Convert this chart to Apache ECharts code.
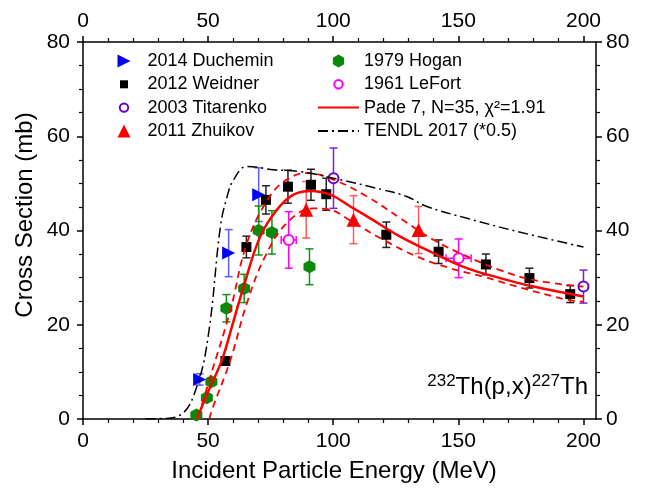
<!DOCTYPE html>
<html>
<head>
<meta charset="utf-8">
<script src="https://cdn.jsdelivr.net/npm/echarts@6/dist/echarts.min.js"></script>
<style>
html,body{margin:0;padding:0;background:#fff;}
#chart{width:655px;height:494px;}
</style>
</head>
<body>
<div id="chart"></div>
<script>
// ---- data ----
const xTickValues = [0, 50, 100, 150, 200];
const yTickValues = [0, 20, 40, 60, 80];

const duchE = [46.6, 58.2, 70.2];
const duchS = [8.4, 35.2, 47.6];
const duchErr = [1.2, 5.0, 5.7];

const weidE = [56.9, 65.3, 73.1, 81.9, 91.1, 97.2, 121.2, 142.1, 161.0, 178.4, 194.7];
const weidS = [12.3, 36.5, 46.5, 49.3, 49.7, 47.7, 39.1, 35.5, 32.8, 29.9, 26.5];
const weidErr = [0.8, 2.3, 3.0, 3.5, 3.3, 3.4, 2.7, 2.5, 2.2, 2.1, 1.8];

const titE = [100.1, 200.0];
const titS = [51.1, 28.1];
const titErr = [6.4, 3.5];

const zhuE = [89.2, 108.1, 134.1];
const zhuS = [44.4, 42.3, 40.1];
const zhuErr = [6.0, 5.1, 5.0];

const hogE = [45.3, 49.5, 51.3, 57.3, 64.4, 70.2, 75.5, 90.5];
const hogS = [0.85, 4.5, 7.9, 23.5, 27.7, 40.0, 39.6, 32.3];
const hogErr = [0.3, 0.6, 0.8, 2.9, 3.0, 5.2, 4.6, 3.8];

const lefE = [82.2, 150.1];
const lefS = [38.0, 34.1];
const lefErr = [6.0, 4.1];
const lefXErr = [3.0, 5.0];

const padeE = [45.5, 50, 55.5, 60, 64.2, 70.8, 77.5, 84.1, 90.8, 98.8, 106.8, 113.5, 126.8, 140.1, 153.4, 166.7, 180, 200];
const padeS = [0, 5.8, 12.5, 20.5, 28.1, 38.7, 44.4, 47.6, 48.4, 47.6, 45.1, 43.0, 38.7, 35.2, 32.0, 29.9, 28.1, 26.0];

const upE = [47.5, 50.9, 58.9, 65.5, 74.2, 81.5, 89.5, 100.1, 113.5, 126.8, 140.1, 153.4, 166.7, 180, 200];
const upS = [3.0, 9.0, 23.1, 37.3, 46.9, 50.8, 52.2, 50.8, 47.2, 42.6, 38.0, 34.5, 31.6, 29.5, 28.1];

const loE = [50.5, 51.5, 58.9, 65.5, 72.8, 81.5, 92.1, 98.8, 106.8, 120.1, 133.4, 146.7, 160, 173.4, 193.4, 200];
const loS = [0, 1.9, 12.5, 24.6, 34.5, 41.6, 44.7, 44.4, 42.1, 38.0, 34.5, 32.0, 30.2, 28.1, 25.3, 24.9];

const tendE = [25, 30, 38.9, 45.5, 50.2, 54.9, 57.5, 60.2, 65.5, 76.1, 86.8, 100.1, 120.1, 129.4, 137.4, 153.4, 173.4, 200];
const tendS = [0, 0.05, 0.85, 6.9, 18.2, 40.8, 47.0, 50.8, 53.6, 52.9, 52.5, 51.1, 48.6, 47.2, 45.1, 42.6, 39.8, 36.5];

const names = {
  duch: '2014 Duchemin', weid: '2012 Weidner', tit: '2003 Titarenko', zhu: '2011 Zhuikov',
  hog: '1979 Hogan', lef: '1961 LeFort', pade: 'Pade 7, N=35, χ²=1.91', tend: 'TENDL 2017 (*0.5)'
};

// ---- helpers ----
const FONT = 'Liberation Sans, Arial, sans-serif';
const zip = (a, b) => a.map((v, i) => [v, b[i]]);
const zipErr = (a, b, e, xe) => a.map((v, i) => [v, b[i], e[i], xe ? xe[i] : 0]);
const hexPath = 'path://M0,-1L0.866,-0.5L0.866,0.5L0,1L-0.866,0.5L-0.866,-0.5Z';
const rightTri = 'path://M0,0L10,5L0,10Z';
const smallSquare = 'path://M-4,-4L4,-4L4,4L-4,4Z M-6.5,-6.5L-6.5,-6.5 M6.5,6.5L6.5,6.5';
const smallCircle = 'path://M-6.5,-6.5L-6.5,-6.5 M6.5,6.5L6.5,6.5 M-4.2,0A4.2,4.2 0 1,0 4.2,0A4.2,4.2 0 1,0 -4.2,0Z';

function errSeries(x, y, e, xe, color) {
  return {
    type: 'custom',
    xAxisIndex: 0, yAxisIndex: 0,
    z: 2,
    silent: true,
    data: zipErr(x, y, e, xe),
    encode: { x: 0, y: 1 },
    renderItem: function (params, api) {
      const vx = api.value(0), vy = api.value(1), ve = api.value(2), vxe = api.value(3);
      const cap = 4;
      const t = api.coord([vx, vy + ve]);
      const b = api.coord([vx, vy - ve]);
      const style = { stroke: color, lineWidth: 1.5 };
      const children = [
        { type: 'line', shape: { x1: t[0], y1: t[1], x2: b[0], y2: b[1] }, style: style },
        { type: 'line', shape: { x1: t[0] - cap, y1: t[1], x2: t[0] + cap, y2: t[1] }, style: style },
        { type: 'line', shape: { x1: b[0] - cap, y1: b[1], x2: b[0] + cap, y2: b[1] }, style: style }
      ];
      if (vxe && vxe > 0) {
        const l = api.coord([vx - vxe, vy]);
        const r = api.coord([vx + vxe, vy]);
        children.push({ type: 'line', shape: { x1: l[0], y1: l[1], x2: r[0], y2: r[1] }, style: style });
        children.push({ type: 'line', shape: { x1: l[0], y1: l[1] - cap, x2: l[0], y2: l[1] + cap }, style: style });
        children.push({ type: 'line', shape: { x1: r[0], y1: r[1] - cap, x2: r[0], y2: r[1] + cap }, style: style });
      }
      return { type: 'group', children: children };
    }
  };
}

function axisCommon() {
  return {
    type: 'value',
    axisLine: { show: true, onZero: false, lineStyle: { color: '#000', width: 1.5 } },
    axisTick: { show: true, inside: false, length: 6, lineStyle: { color: '#000', width: 1.5 } },
    minorTick: { show: true, length: 4, lineStyle: { color: '#000', width: 1.2 } },
    splitLine: { show: false },
    minorSplitLine: { show: false },
    axisLabel: { color: '#000', fontSize: 21, fontFamily: FONT }
  };
}

const xBottom = Object.assign(axisCommon(), { position: 'bottom', min: 0, max: 205, interval: 50 });
xBottom.axisTick.customValues = xTickValues;
xBottom.minorTick.splitNumber = 5;
xBottom.axisLabel.margin = 12;
xBottom.axisLabel.formatter = v => (xTickValues.indexOf(v) >= 0 ? String(v) : '');
const xTop = Object.assign(axisCommon(), { position: 'top', min: 0, max: 205, interval: 50 });
xTop.axisTick.customValues = xTickValues;
xTop.minorTick.splitNumber = 5;
xTop.axisLabel.margin = 10;
xTop.axisLabel.formatter = v => (xTickValues.indexOf(v) >= 0 ? String(v) : '');

const yLeft = Object.assign(axisCommon(), { position: 'left', min: 0, max: 80, interval: 20 });
yLeft.minorTick.splitNumber = 4;
yLeft.axisLabel.margin = 13;
const yRight = Object.assign(axisCommon(), { position: 'right', min: 0, max: 80, interval: 20 });
yRight.minorTick.splitNumber = 4;
yRight.axisLabel.margin = 10;

const legendText1 = { color: '#000', fontSize: 18, fontFamily: FONT, padding: [0, 0, 0, 12] };
const legendText2 = { color: '#000', fontSize: 18, fontFamily: FONT };

const option = {
  animation: false,
  backgroundColor: '#fff',
  grid: { left: 83, right: 59, top: 42, bottom: 75, containLabel: false },
  xAxis: [xBottom, xTop],
  yAxis: [yLeft, yRight],
  legend: [
    {
      orient: 'vertical', left: 116.5, top: 52, padding: 0, itemGap: 5.3, itemWidth: 13, itemHeight: 13,
      textStyle: legendText1, selectedMode: false,
      data: [
        { name: names.duch, icon: rightTri },
        { name: names.weid, icon: smallSquare },
        { name: names.tit, icon: smallCircle },
        { name: names.zhu }
      ]
    },
    {
      orient: 'vertical', left: 317, top: 52, padding: 0, itemGap: 5.3, itemWidth: 41, itemHeight: 13,
      textStyle: legendText2, selectedMode: false,
      data: [
        { name: names.hog },
        { name: names.lef, icon: smallCircle },
        { name: names.pade, itemStyle: { opacity: 0 } },
        { name: names.tend, itemStyle: { opacity: 0 } }
      ]
    }
  ],
  graphic: [
    {
      type: 'text', x: 334, y: 471,
      style: { text: 'Incident Particle Energy (MeV)', font: '24px ' + FONT, fill: '#000', align: 'center', verticalAlign: 'middle' }
    },
    {
      type: 'text', x: 25, y: 215, rotation: Math.PI / 2,
      style: { text: 'Cross Section (mb)', font: '24px ' + FONT, fill: '#000', align: 'center', verticalAlign: 'middle' }
    },
    {
      type: 'text', x: 588, y: 399,
      style: {
        text: '{s|232}{m|Th(p,x)}{s|227}{m|Th}',
        align: 'right', verticalAlign: 'bottom', fill: '#000',
        rich: {
          m: { fontSize: 24, fontFamily: FONT, color: '#000', lineHeight: 26, verticalAlign: 'bottom' },
          s: { fontSize: 17, fontFamily: FONT, color: '#000', lineHeight: 26, verticalAlign: 'top' }
        }
      }
    }
  ],
  series: [
    errSeries(duchE, duchS, duchErr, null, '#5b5bff'),
    errSeries(weidE, weidS, weidErr, null, '#222222'),
    errSeries(titE, titS, titErr, null, '#7a22d8'),
    errSeries(zhuE, zhuS, zhuErr, null, '#ff5a5a'),
    errSeries(hogE, hogS, hogErr, null, '#139313'),
    errSeries(lefE, lefS, lefErr, lefXErr, '#ff00ff'),
    {
      name: names.duch, type: 'scatter', z: 3, symbol: rightTri, symbolSize: 13,
      itemStyle: { color: '#0000ff', opacity: 1 }, data: zip(duchE, duchS)
    },
    {
      name: names.weid, type: 'scatter', z: 3, symbol: 'rect', symbolSize: 10,
      itemStyle: { color: '#000000', opacity: 1 }, data: zip(weidE, weidS)
    },
    {
      name: names.tit, type: 'scatter', z: 3, symbol: 'circle', symbolSize: 10,
      itemStyle: { color: '#ffffff', borderColor: '#6a00d0', borderWidth: 2, opacity: 1 }, data: zip(titE, titS)
    },
    {
      name: names.zhu, type: 'scatter', z: 3, symbol: 'triangle', symbolSize: 14,
      itemStyle: { color: '#ff0000', opacity: 1 }, data: zip(zhuE, zhuS)
    },
    {
      name: names.hog, type: 'scatter', z: 3, symbol: hexPath, symbolSize: [12, 13],
      itemStyle: { color: '#0a8a0a', opacity: 1 }, data: zip(hogE, hogS)
    },
    {
      name: names.lef, type: 'scatter', z: 3, symbol: 'circle', symbolSize: 10,
      itemStyle: { color: '#ffffff', borderColor: '#ff00ff', borderWidth: 2, opacity: 1 }, data: zip(lefE, lefS)
    },
    {
      name: names.pade, type: 'line', z: 5, smooth: 0.4, showSymbol: false, symbol: 'none',
      lineStyle: { color: '#ff0000', width: 2.5 }, itemStyle: { color: '#ff0000' },
      data: zip(padeE, padeS)
    },
    {
      name: 'upper', type: 'line', z: 4, smooth: 0.4, showSymbol: false, symbol: 'none',
      lineStyle: { color: '#ff0000', width: 1.8, type: [7, 5] }, data: zip(upE, upS)
    },
    {
      name: 'lower', type: 'line', z: 4, smooth: 0.4, showSymbol: false, symbol: 'none',
      lineStyle: { color: '#ff0000', width: 1.8, type: [7, 5] }, data: zip(loE, loS)
    },
    {
      name: names.tend, type: 'line', z: 4, smooth: 0.4, showSymbol: false, symbol: 'none',
      lineStyle: { color: '#000000', width: 1.5, type: [10, 4, 2, 4] }, itemStyle: { color: '#000' },
      data: zip(tendE, tendS)
    }
  ]
};

const chart = echarts.init(document.getElementById('chart'), null, { renderer: 'canvas' });
chart.setOption(option);
</script>
</body>
</html>
